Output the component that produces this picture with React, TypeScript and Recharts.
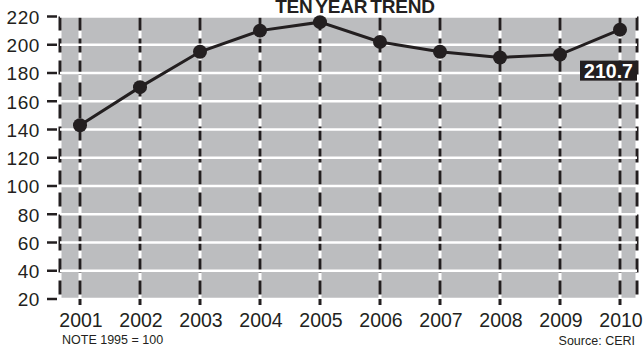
import { LineChart, Line, XAxis, YAxis, CartesianGrid } from "recharts";

const years = ["2001", "2002", "2003", "2004", "2005", "2006", "2007", "2008", "2009", "2010"];
const index = [143, 170, 195, 210, 216, 202, 195, 191, 193, 210.7];
const yTicks = [20, 40, 60, 80, 100, 120, 140, 160, 180, 200, 220];

const data = years.map((year, i) => ({ year, value: index[i] }));

const INK = "#231f20";
const GRAY = "#bcbdbf";
const NARROW = "'Liberation Sans Narrow', 'Arial Narrow', 'Liberation Sans', Arial, sans-serif";
const SANS = "'Liberation Sans', Arial, Helvetica, sans-serif";

function YTick({ y, payload }: any) {
  return (
    <g>
      <line x1={47} x2={57} y1={y} y2={y} stroke={INK} strokeWidth={2.5} />
      <text x={40} y={y + 7.4} textAnchor="end" fontFamily={SANS} fontSize={19} letterSpacing={0.6} fill={INK}>
        {payload.value}
      </text>
    </g>
  );
}

function XTick({ x, payload }: any) {
  return (
    <g>
      <line x1={x} x2={x} y1={299} y2={305} stroke={INK} strokeWidth={3} />
      <text x={x + 1} y={327} textAnchor="middle" fontFamily={NARROW} fontSize={19.5} fill={INK}>
        {payload.value}
      </text>
    </g>
  );
}

function LastLabel({ x, y, index: i, value }: any) {
  if (i !== years.length - 1) return null;
  return (
    <g>
      <rect x={x - 40} y={y + 31} width={57} height={20} fill={INK} />
      <text x={x - 11.5} y={y + 48} textAnchor="middle" fontFamily={SANS} fontWeight="bold" fontSize={19.5} fill="#fff">
        {value}
      </text>
    </g>
  );
}

export default function App() {
  return (
    <div style={{ position: "absolute", left: 0, top: 0, width: 644, height: 351, background: "#fff" }}>
      <LineChart width={644} height={351} data={data} margin={{ top: 16.5, right: 7, bottom: 0, left: 0 }}>
        <CartesianGrid fill={GRAY} horizontal={false} stroke="#fff" strokeWidth={3} />
        <CartesianGrid fill="none" horizontal={false} stroke={INK} strokeWidth={3} strokeDasharray="14 8" />
        <CartesianGrid fill="none" vertical={false} stroke="#fff" strokeWidth={2.5} />
        <XAxis
          dataKey="year"
          height={52}
          padding={{ left: 20, right: 17 }}
          axisLine={false}
          tickLine={false}
          interval={0}
          tick={<XTick />}
        />
        <YAxis
          width={60}
          domain={[20, 220]}
          ticks={yTicks}
          axisLine={false}
          tickLine={false}
          interval={0}
          tick={<YTick />}
        />
        <Line
          dataKey="value"
          stroke={INK}
          strokeWidth={3}
          dot={{ r: 7, fill: INK, stroke: "none" }}
          activeDot={false}
          isAnimationActive={false}
          label={<LastLabel />}
        />
      </LineChart>
      <svg width={644} height={351} style={{ position: "absolute", left: 0, top: 0, pointerEvents: "none" }}>
        <text x={355} y={13} textAnchor="middle" fontFamily={SANS} fontWeight="bold" fontSize={19} letterSpacing={-0.2} wordSpacing={-2} fill={INK}>
          TEN YEAR TREND
        </text>
        <text x={62} y={344} fontFamily={NARROW} fontSize={12.5} fill={INK}>
          NOTE 1995 = 100
        </text>
        <text x={635} y={345} textAnchor="end" fontFamily={NARROW} fontSize={12.5} fill={INK}>
          Source: CERI
        </text>
      </svg>
    </div>
  );
}
